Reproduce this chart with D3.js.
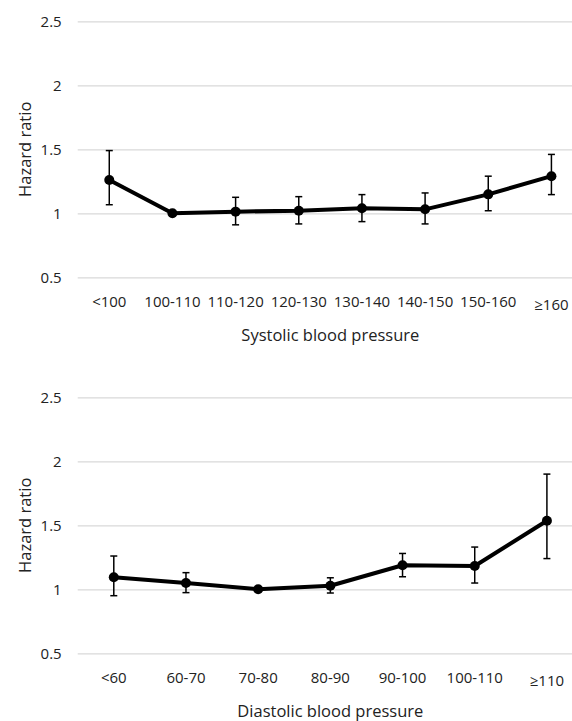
<!DOCTYPE html>
<html>
<head>
<meta charset="utf-8">
<script src="https://cdn.jsdelivr.net/npm/d3@7"></script>
<style>
  body { margin: 0; background: #fff; }
  svg text { font-family: "Open Sans", "Noto Sans", sans-serif; }
  .grid line { stroke: #d9d9d9; stroke-width: 1.3; }
  .grid .domain, .xaxis .domain { display: none; }
  .tick text { fill: #222; font-size: 15px; }
  .title { fill: #222; font-size: 16.5px; }
</style>
</head>
<body>
<div id="chart"></div>
<script>
// systolic panel
var sysCats = ["<100", "100-110", "110-120", "120-130", "130-140", "140-150", "150-160", "≥160"];
var sysHR   = [1.26, 1.00, 1.013, 1.02, 1.039, 1.031, 1.148, 1.29];
var sysLow  = [1.067, null, 0.91, 0.917, 0.935, 0.917, 1.02, 1.146];
var sysHigh = [1.49, null, 1.125, 1.13, 1.146, 1.159, 1.29, 1.46];

// diastolic panel
var diaCats = ["<60", "60-70", "70-80", "80-90", "90-100", "100-110", "≥110"];
var diaHR   = [1.094, 1.049, 1.00, 1.028, 1.188, 1.182, 1.536];
var diaLow  = [0.95, 0.974, null, 0.971, 1.098, 1.049, 1.24];
var diaHigh = [1.26, 1.13, null, 1.09, 1.28, 1.33, 1.90];

var yTicks = [0.5, 1, 1.5, 2, 2.5];

var width = 572, height = 721,
    left = 77.7, right = 583;

var svg = d3.select("#chart").append("svg")
    .attr("width", width)
    .attr("height", height);

function panel(cats, hr, lo, hi, top, bottom, xTitle, titleY) {
  var x = d3.scaleBand().domain(cats).range([left, right]);
  var y = d3.scaleLinear().domain([0.5, 2.5]).range([bottom, top]);

  var g = svg.append("g");

  // gridlines + y labels
  g.append("g")
      .attr("class", "grid")
      .attr("transform", "translate(" + left + ",0)")
      .call(d3.axisLeft(y).tickValues(yTicks).tickSize(-(width - left)).tickPadding(16)
        .tickFormat(function(d){ return d3.format("")(d); }))
      .attr("font-family", null)
      .selectAll(".tick text").attr("x", -16);

  // x labels
  var xa = g.append("g")
      .attr("class", "xaxis")
      .attr("transform", "translate(0," + bottom + ")")
      .call(d3.axisBottom(x).tickSize(0).tickPadding(18))
      .attr("font-family", null);
  xa.selectAll(".tick text")
      .attr("dy", function(d){ return d.charAt(0) == "≥" ? "0.95em" : "0.78em"; });

  var pts = cats.map(function(c, i){
    return { cat: c, v: hr[i], lo: lo[i], hi: hi[i] };
  });
  var cx = function(d){ return x(d.cat) + x.bandwidth() / 2; };

  // error bars
  var eb = g.selectAll(".eb")
    .data(pts.filter(function(d){ return d.lo != null; }))
    .enter().append("g").attr("class", "eb")
      .attr("stroke", "#000").attr("stroke-width", 1.5);
  eb.append("line")
      .attr("x1", cx).attr("x2", cx)
      .attr("y1", function(d){ return y(d.lo); })
      .attr("y2", function(d){ return y(d.hi); });
  eb.append("line")
      .attr("x1", function(d){ return cx(d) - 3.5; })
      .attr("x2", function(d){ return cx(d) + 3.5; })
      .attr("y1", function(d){ return y(d.hi); })
      .attr("y2", function(d){ return y(d.hi); });
  eb.append("line")
      .attr("x1", function(d){ return cx(d) - 3.5; })
      .attr("x2", function(d){ return cx(d) + 3.5; })
      .attr("y1", function(d){ return y(d.lo); })
      .attr("y2", function(d){ return y(d.lo); });

  // line
  g.append("path")
      .datum(pts)
      .attr("fill", "none")
      .attr("stroke", "#000")
      .attr("stroke-width", 4)
      .attr("stroke-linejoin", "round")
      .attr("d", d3.line().x(cx).y(function(d){ return y(d.v); }));

  g.selectAll(".pt")
    .data(pts)
    .enter().append("circle")
      .attr("class", "pt")
      .attr("r", 5)
      .attr("fill", "#000")
      .attr("cx", cx)
      .attr("cy", function(d){ return y(d.v); });

  // titles
  g.append("text")
      .attr("class", "title")
      .attr("text-anchor", "middle")
      .attr("x", (left + right) / 2)
      .attr("y", titleY)
      .text(xTitle);

  g.append("text")
      .attr("class", "title")
      .attr("text-anchor", "middle")
      .attr("transform", "translate(31," + ((top + bottom) / 2) + ") rotate(-90)")
      .text("Hazard ratio");
}

panel(sysCats, sysHR, sysLow, sysHigh, 21.3, 277.3, "Systolic blood pressure", 341);
panel(diaCats, diaHR, diaLow, diaHigh, 397.3, 653.3, "Diastolic blood pressure", 717);
</script>
</body>
</html>
